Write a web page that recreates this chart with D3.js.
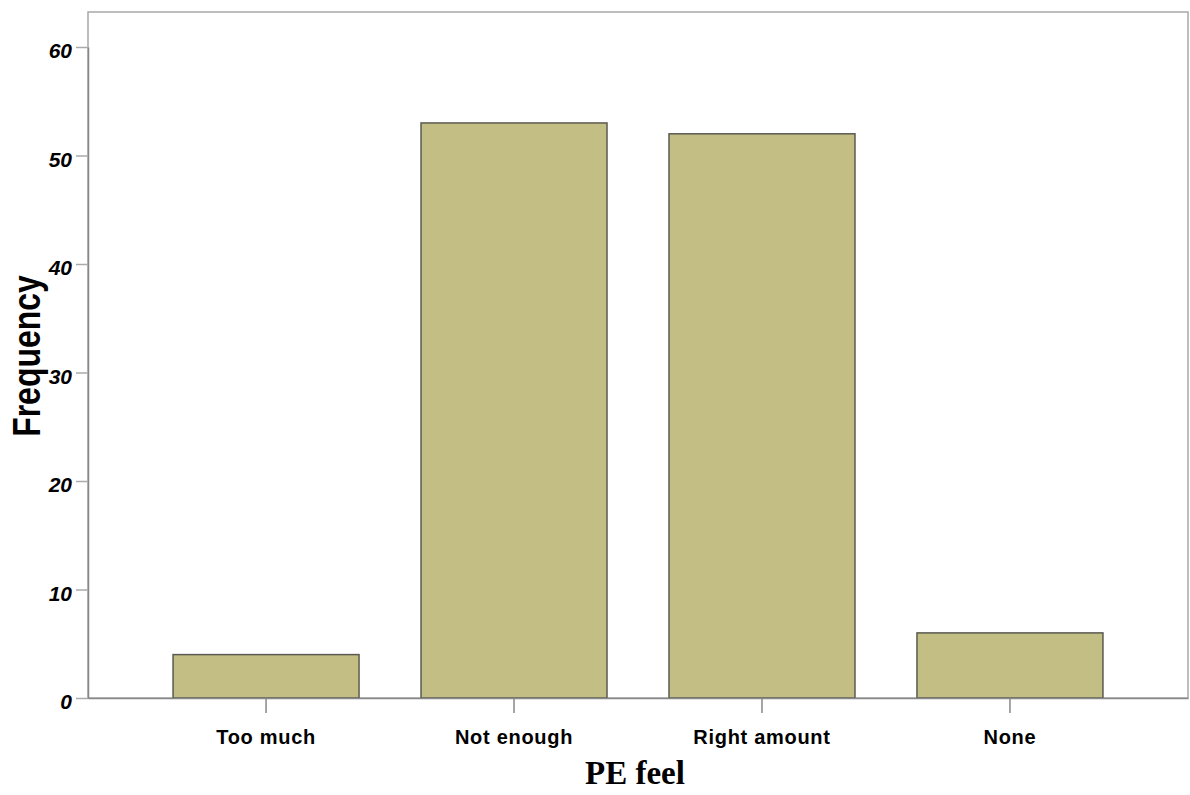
<!DOCTYPE html>
<html><head><meta charset="utf-8">
<script src="https://cdn.jsdelivr.net/npm/d3@7"></script>
<style>body{margin:0;background:#fff}</style>
</head><body>
<svg id="c" width="1190" height="795"></svg>
<script>
const categories = ["Too much", "Not enough", "Right amount", "None"];
const frequencies = [4, 53, 52, 6];
const yTicks = [0, 10, 20, 30, 40, 50, 60];

const svg = d3.select("#c");
const L = 88, R = 1188, T = 12, B = 698;
const x = d3.scaleBand().domain(categories).range([L, R]).paddingInner(0.25).paddingOuter(0.343);
const y = d3.scaleLinear().domain([0, 60]).range([B, 47]);

// frame
svg.append("rect").attr("x", L).attr("y", T).attr("width", R - L).attr("height", B - T)
  .attr("fill", "#fff").attr("stroke", "#a8a8a8").attr("stroke-width", 1.5);

// y axis
const ya = svg.append("g").attr("transform", `translate(${L},0)`)
  .call(d3.axisLeft(y).tickValues(yTicks).tickSize(12).tickSizeOuter(0).tickPadding(4));
ya.select(".domain").attr("stroke", "#888").attr("stroke-width", 1.5);
ya.selectAll(".tick line").attr("stroke", "#aaa").attr("stroke-width", 1.5);
ya.selectAll("text").attr("font-family", "Liberation Sans, Arial, sans-serif")
  .attr("font-size", 21).attr("font-weight", "bold").attr("font-style", "italic").attr("fill", "#000")
  .attr("dy", "0.5em");

// bars
svg.append("g").selectAll("rect").data(frequencies).join("rect")
  .attr("x", (d, i) => x(categories[i]))
  .attr("y", d => y(d))
  .attr("width", x.bandwidth())
  .attr("height", d => y(0) - y(d))
  .attr("fill", "#c3bf84").attr("stroke", "#5a5a50").attr("stroke-width", 1.5);

// x axis
const xa = svg.append("g").attr("transform", `translate(0,${B})`)
  .call(d3.axisBottom(x).tickSize(15).tickSizeOuter(0).tickPadding(17));
xa.select(".domain").attr("stroke", "#888").attr("stroke-width", 1.5);
xa.selectAll(".tick line").attr("stroke", "#888").attr("stroke-width", 1.5);
xa.selectAll("text").attr("font-family", "Liberation Sans, Arial, sans-serif")
  .attr("font-size", 20).attr("font-weight", "bold").attr("fill", "#000")
  .attr("letter-spacing", 0.7);

// titles
svg.append("text").attr("x", 635).attr("y", 784).attr("text-anchor", "middle")
  .attr("font-family", "Liberation Serif, Times New Roman, serif").attr("font-weight", "bold")
  .attr("font-size", 33).text("PE feel");
svg.append("text").attr("transform", `translate(40,356) rotate(-90) scale(1,1.2)`).attr("text-anchor", "middle")
  .attr("font-family", "Liberation Sans, Arial, sans-serif").attr("font-weight", "bold")
  .attr("font-size", 32).text("Frequency");
</script>
</body></html>
